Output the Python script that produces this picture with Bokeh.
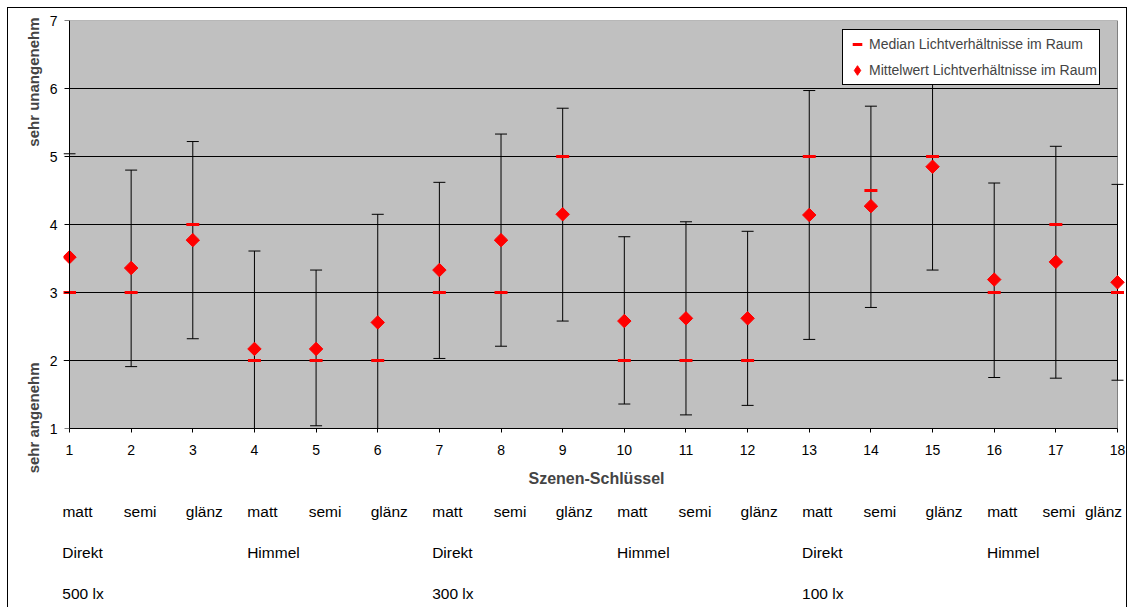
from math import pi
from bokeh.plotting import figure
from bokeh.layouts import column
from bokeh.models import (Range1d, FixedTicker, BoxAnnotation, Legend, LegendItem,
                          Label, LinearAxis, Div)
from bokeh.embed import file_html
from bokeh.resources import INLINE

# ---------------- data ----------------
scenes = list(range(1, 19))
mean_vals = [3.52, 3.36, 3.77, 2.17, 2.17, 2.56, 3.33, 3.77, 4.15,
             2.58, 2.62, 2.62, 4.14, 4.27, 4.85, 3.19, 3.45, 3.15]
median_vals = [3, 3, 4, 2, 2, 2, 3, 3, 5, 2, 2, 2, 5, 4.5, 5, 3, 4, 3]
upper_vals = [5.04, 4.80, 5.22, 3.61, 3.33, 4.15, 4.62, 5.33, 5.71,
              3.82, 4.04, 3.90, 5.97, 5.74, 6.37, 4.61, 5.15, 4.59]
lower_vals = [2.00, 1.91, 2.32, 0.73, 1.04, 0.98, 2.03, 2.21, 2.58,
              1.36, 1.20, 1.34, 2.31, 2.78, 3.33, 1.75, 1.74, 1.71]
y_ticks = [1, 2, 3, 4, 5, 6, 7]
finish_labels = ["matt", "semi", "glänz"] * 6
light_labels = ["Direkt", "Himmel", "Direkt", "Himmel", "Direkt", "Himmel"]
light_scenes = [1, 4, 7, 10, 13, 16]
lux_labels = ["500 lx", "300 lx", "100 lx"]
lux_scenes = [1, 7, 13]

FONT = "Liberation Sans"
W, H = 1129, 607
AX_L, AX_R = 69, 1117          # pixel positions of scene 1 and scene 18
FRAME_T, FRAME_B = 20, 428
S = (AX_R - AX_L) / (scenes[-1] - scenes[0])
PAD_L, PAD_R = 6, W - AX_R

p = figure(width=W, height=H, output_backend="svg", toolbar_location=None,
           x_range=Range1d(scenes[0] - PAD_L / S, scenes[-1] + PAD_R / S),
           y_range=Range1d(y_ticks[0], y_ticks[-1]),
           min_border_left=AX_L - PAD_L, min_border_right=0,
           min_border_top=FRAME_T, min_border_bottom=H - FRAME_B)
p.background_fill_color = "white"
p.border_fill_color = "white"
p.outline_line_color = None
p.grid.visible = False

# grey plot area
p.add_layout(BoxAnnotation(left=scenes[0], right=scenes[-1], bottom=y_ticks[0], top=y_ticks[-1],
                           fill_color="#C0C0C0", fill_alpha=1, line_color="#808080",
                           line_alpha=1, line_width=1, level="underlay"))

# horizontal grid lines
gy = y_ticks[1:-1]
p.segment(x0=[scenes[0]] * len(gy), x1=[scenes[-1]] * len(gy), y0=gy, y1=gy,
          line_color="black", line_width=1)

# x axis
xa = p.xaxis[0]
xa.ticker = FixedTicker(ticks=scenes)
xa.bounds = (scenes[0], scenes[-1])
xa.axis_line_color = "black"
xa.major_tick_in = 0
xa.major_tick_out = 4
xa.minor_tick_line_color = None
xa.major_label_standoff = 12
xa.major_label_text_font = FONT
xa.major_label_text_font_size = "14px"
xa.major_label_text_color = "black"
xa.axis_label = "Szenen-Schlüssel"
xa.axis_label_text_font = FONT
xa.axis_label_text_font_size = "16px"
xa.axis_label_text_font_style = "bold"
xa.axis_label_standoff = 12

# category rows as extra (line-less) axes below the main x axis
def px_off(v):
    return v / S

row1_off = [px_off(o) for o in [8, 9, 11.5] * 5 + [8, 3, -14]]
row1_pos = [s + o for s, o in zip(scenes, row1_off)]
row2_pos = [s + px_off(13 if t == "Direkt" else 19) for s, t in zip(light_scenes, light_labels)]
row3_pos = [s + px_off(13.5) for s in lux_scenes]

for pos, labs, standoff in ((row1_pos, finish_labels, 13),
                            (row2_pos, light_labels, 21),
                            (row3_pos, lux_labels, 21)):
    ax = LinearAxis(ticker=FixedTicker(ticks=pos),
                    major_label_overrides={k: v for k, v in zip(pos, labs)},
                    axis_line_color=None, major_tick_line_color=None,
                    minor_tick_line_color=None, major_tick_in=0, major_tick_out=0,
                    major_label_standoff=standoff, major_label_text_font=FONT,
                    major_label_text_font_size="15.5px", major_label_text_color="black")
    p.add_layout(ax, "below")

# y axis: line + ticks at scene 1
ya = p.yaxis[0]
ya.ticker = FixedTicker(ticks=y_ticks)
ya.fixed_location = scenes[0]
ya.axis_line_color = "black"
ya.major_tick_in = 0
ya.major_tick_out = 5
ya.minor_tick_line_color = None
ya.major_label_standoff = 0
ya.major_label_overrides = {v: "" for v in y_ticks}

# y axis tick labels (outside the frame)
ya2 = LinearAxis(ticker=FixedTicker(ticks=y_ticks), axis_line_color=None,
                 major_tick_line_color=None, minor_tick_line_color=None,
                 major_tick_in=0, major_tick_out=0, major_label_standoff=6,
                 major_label_text_font=FONT, major_label_text_font_size="14px",
                 major_label_text_color="black")
p.add_layout(ya2, "left")

# error bars
p.segment(x0=scenes, x1=scenes, y0=lower_vals, y1=upper_vals, line_color="black", line_width=1)
p.scatter(x=scenes, y=upper_vals, marker="dash", size=12, line_color="black", line_width=1)
p.scatter(x=scenes, y=lower_vals, marker="dash", size=12, line_color="black", line_width=1)

# median
r_med = p.scatter(x=scenes, y=median_vals, marker="dash", size=13, line_color="red", line_width=3)
# mean: a diamond marker (used for the legend) covered by rotated squares of the same colour
r_mean_leg = p.scatter(x=scenes, y=mean_vals, marker="diamond", size=12,
                       fill_color="red", line_color="red", line_width=1)
r_mean = p.scatter(x=scenes, y=mean_vals, marker="square", angle=pi / 4, size=9.5,
                   fill_color="red", line_color="red", line_width=1)

legend = Legend(items=[LegendItem(label="Median Lichtverhältnisse im Raum", renderers=[r_med]),
                       LegendItem(label="Mittelwert Lichtverhältnisse im Raum", renderers=[r_mean_leg])],
                location=(842 - (AX_L - PAD_L), FRAME_B - 85), padding=2, margin=0, spacing=2,
                glyph_width=24, glyph_height=24, label_height=24, label_standoff=0,
                label_text_font=FONT, label_text_font_size="14px",
                border_line_color="black", border_line_width=1, border_line_alpha=1,
                background_fill_color="white", background_fill_alpha=1)
p.add_layout(legend)

def dx(px):
    return scenes[0] + (px - AX_L) / S
def dy(py):
    return y_ticks[0] + (FRAME_B - py) / 68.0

# y axis descriptive titles
p.add_layout(Label(x=dx(33), y=dy(17), text="sehr unangenehm", angle=pi / 2,
                   text_align="right", text_baseline="middle", text_font=FONT,
                   text_font_size="15px", text_font_style="bold"), "left")
p.add_layout(Label(x=dx(33), y=dy(362), text="sehr angenehm", angle=pi / 2,
                   text_align="right", text_baseline="middle", text_font=FONT,
                   text_font_size="15px", text_font_style="bold"), "left")

# outer chart border (fixed overlay)
border = Div(text='<div style="position:fixed;left:7px;top:7px;width:1120px;height:700px;'
                  'border:1.5px solid #000;box-sizing:border-box;pointer-events:none;'
                  'z-index:10"></div>',
             width=1, height=1, styles={"position": "absolute", "left": "0px", "top": "0px"})

layout = column(p, border)
open("out.html", "w").write(file_html(layout, INLINE))
